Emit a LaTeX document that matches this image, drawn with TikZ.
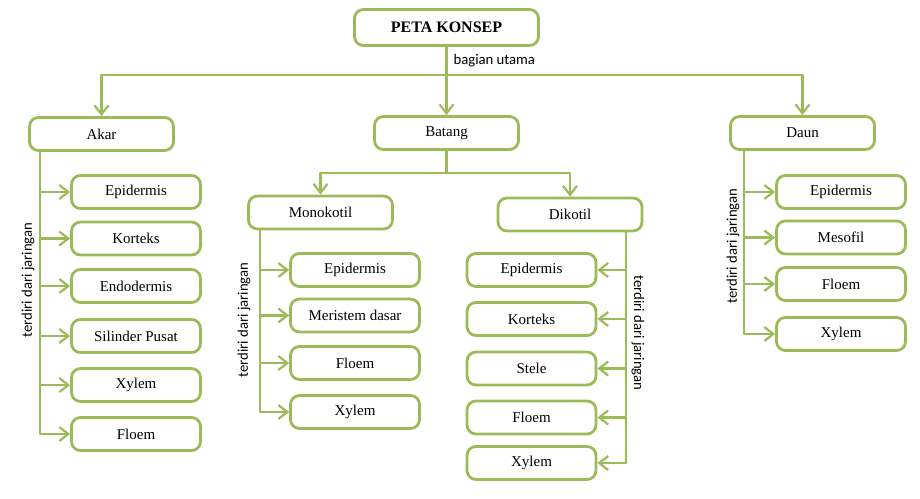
\documentclass[tikz,border=0pt]{standalone}
\usepackage{fontspec}
\setmainfont{Liberation Serif}
\newfontfamily\calibri{Carlito}
\usetikzlibrary{arrows.meta}
\definecolor{hijau}{RGB}{155,187,89}
\begin{document}
\begin{tikzpicture}[x=1pt, y=-1pt, line join=round, line cap=round, >={Straight Barb[length=9pt,width=14pt]},
	kotak/.style={draw=hijau, line width=2.8pt, rounded corners=9pt, fill=white, inner sep=0pt, minimum width=144pt, minimum height=33pt, font=\fontsize{15}{18}\selectfont},
	anak/.style={kotak, minimum width=129pt},
	garis/.style={draw=hijau, line width=2.2pt},
	ket/.style={font=\calibri\fontsize{14.7}{17}\selectfont}]
	\useasboundingbox (0,0) rectangle (920,498);
	% kotak utama
	\node[kotak, minimum width=184pt, minimum height=36pt, font=\bfseries\fontsize{16}{19}\selectfont] (peta) at (446.5,27.5) {PETA KONSEP};
	\node[kotak] (akar) at (101.5,134) {Akar};
	\node[kotak] (batang) at (446.5,133) {Batang};
	\node[kotak] (daun) at (802.5,133) {Daun};
	\node[kotak] (mono) at (320.5,212.5) {Monokotil};
	\node[kotak] (diko) at (570,214.5) {Dikotil};
	% jaringan akar
	\node[anak] (a1) at (136,192) {Epidermis};
	\node[anak] (a2) at (136,238.5) {Korteks};
	\node[anak] (a3) at (136,286) {Endodermis};
	\node[anak] (a4) at (136,336) {Silinder Pusat};
	\node[anak] (a5) at (136,385) {Xylem};
	\node[anak] (a6) at (136,434) {Floem};
	% jaringan monokotil
	\node[anak] (m1) at (355,270) {Epidermis};
	\node[anak] (m2) at (355,315.5) {Meristem dasar};
	\node[anak] (m3) at (355,363) {Floem};
	\node[anak] (m4) at (355,412) {Xylem};
	% jaringan dikotil
	\node[anak] (d1) at (531.5,270) {Epidermis};
	\node[anak] (d2) at (531.5,319) {Korteks};
	\node[anak] (d3) at (531.5,368.5) {Stele};
	\node[anak] (d4) at (531.5,417.5) {Floem};
	\node[anak] (d5) at (531.5,463) {Xylem};
	% jaringan daun
	\node[anak] (n1) at (841,192) {Epidermis};
	\node[anak] (n2) at (841,237.5) {Mesofil};
	\node[anak] (n3) at (841,284) {Floem};
	\node[anak] (n4) at (841,334) {Xylem};
	% garis bagian utama
	\coordinate (hub) at (446.5,75);
	\draw[garis] (peta) -- (hub) node[midway, right, ket, inner sep=6pt]{bagian utama};
	\draw[garis,->] (hub) -- (batang);
	\draw[garis,->] (hub) -| (akar);
	\draw[garis,->] (hub) -| (daun);
	\coordinate (bh) at (446.5,173);
	\draw[garis] (batang) -- (bh);
	\draw[garis,->] (bh) -| (mono);
	\draw[garis,->] (bh) -| (diko);
	% batang jaringan
	\coordinate (ta) at (40,151); \coordinate (tm) at (260,230);
	\coordinate (td) at (626,232); \coordinate (tn) at (744,151);
	\foreach \i in {1,...,6} \draw[garis,->] (ta) |- (a\i);
	\foreach \i in {1,...,4} \draw[garis,->] (tm) |- (m\i);
	\foreach \i in {1,...,5} \draw[garis,->] (td) |- (d\i);
	\foreach \i in {1,...,4} \draw[garis,->] (tn) |- (n\i);
	\node[ket, rotate=90] (la) at (28,280) {terdiri dari jaringan};
	\node[ket, rotate=90] (lm) at (244,320) {terdiri dari jaringan};
	\node[ket, rotate=-90] (ld) at (638,333) {terdiri dari jaringan};
	\node[ket, rotate=90] (ln) at (733,246) {terdiri dari jaringan};
\end{tikzpicture}
\end{document}
